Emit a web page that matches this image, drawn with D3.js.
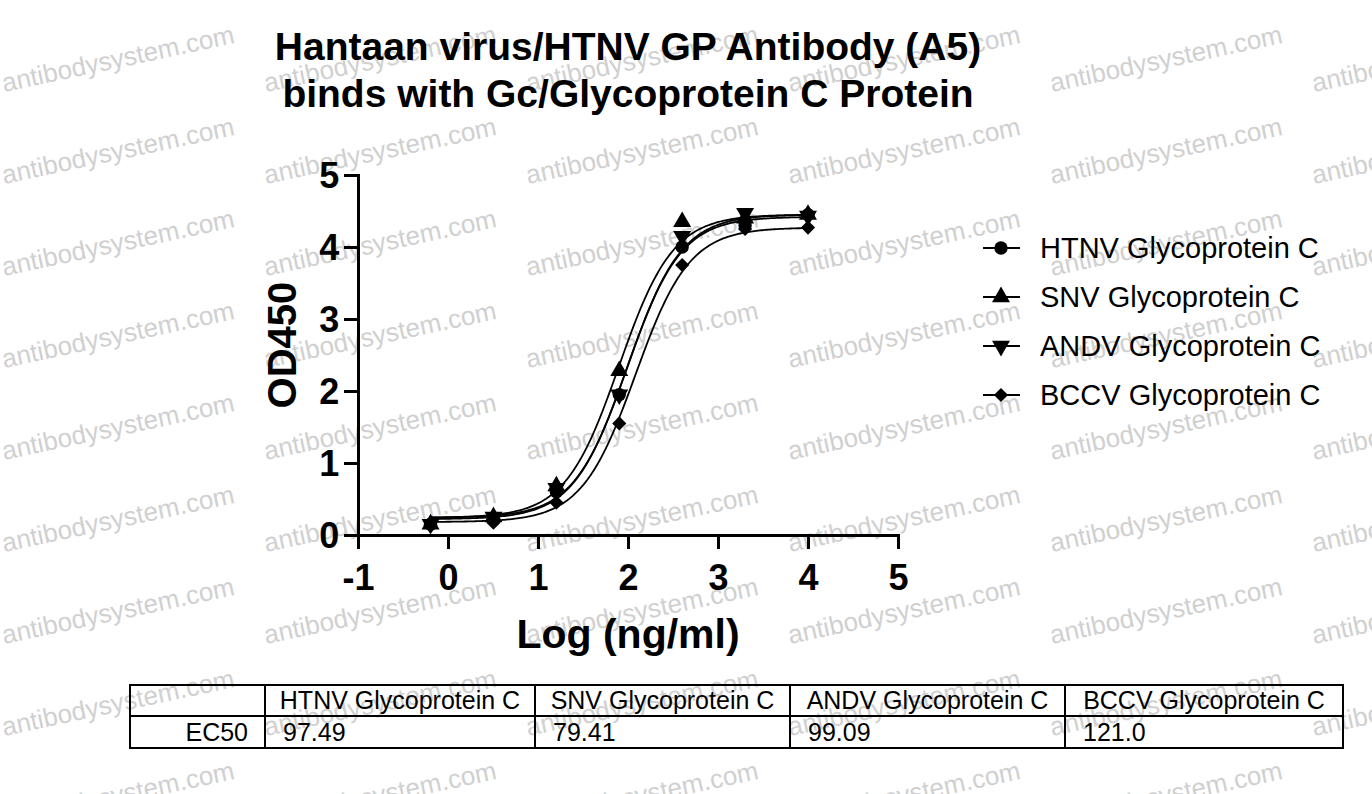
<!DOCTYPE html><html><head><meta charset="utf-8"><script src="https://cdn.jsdelivr.net/npm/d3@7"></script>
<style>body{margin:0;background:#fff}text{font-family:Arial,"Liberation Sans",sans-serif}</style></head><body>
<svg id="c" width="1372" height="794"></svg>
<script>
const xLog=[-0.194,0.505,1.204,1.903,2.602,3.301,4.0];
const seriesNames=["HTNV Glycoprotein C","SNV Glycoprotein C","ANDV Glycoprotein C","BCCV Glycoprotein C"];
const htnv=[0.15,0.22,0.6,1.95,4.0,4.3,4.45];
const snv=[0.15,0.25,0.68,2.28,4.35,4.4,4.45];
const andv=[0.15,0.25,0.65,1.95,4.15,4.47,4.43];
const bccv=[0.13,0.17,0.45,1.55,3.75,4.25,4.27];
const ec50=["97.49","79.41","99.09","121.0"];
// 4PL fit parameters [bottom, top, hill]
const fitBottom=[0.22,0.24,0.24,0.18];
const fitTop=[4.42,4.45,4.45,4.27];
const fitHill=[1.45,1.45,1.45,1.45];
const xTicks=[-1,0,1,2,3,4,5], yTicks=[0,1,2,3,4,5];
const symbols=[d3.symbolCircle,d3.symbolTriangle,d3.symbolTriangle,d3.symbolSquare];
const rot=[0,0,180,45];
const sizes=[140,140,140,100];
const vals=[htnv,snv,andv,bccv];
const svg=d3.select("#c");
const x=d3.scaleLinear().domain([-1,5]).range([358,898]);
const y=d3.scaleLinear().domain([0,5]).range([535,175]);
const wm=svg.append("g");
for(let r=0;r<9;r++)for(let c=0;c<6;c++){
  wm.append("text").attr("transform",`translate(${c*262+4},${r*92+92}) rotate(-12)`).attr("font-size",26).attr("fill","#d0d0d0").text("antibodysystem.com");
}
svg.append("text").attr("x",628).attr("y",60).attr("text-anchor","middle").attr("font-size",39).attr("font-weight","bold").text("Hantaan virus/HTNV GP Antibody (A5)");
svg.append("text").attr("x",628).attr("y",107).attr("text-anchor","middle").attr("font-size",39).attr("font-weight","bold").text("binds with Gc/Glycoprotein C Protein");
const xa=svg.append("g").attr("transform","translate(0,535)").call(d3.axisBottom(x).tickValues(xTicks).tickSize(14).tickFormat(d=>String(d)));
const ya=svg.append("g").attr("transform","translate(358,0)").call(d3.axisLeft(y).tickValues(yTicks).tickSize(14).tickFormat(d=>String(d)));
[xa,ya].forEach(a=>{a.select(".domain").attr("stroke-width",3);a.selectAll(".tick line").attr("stroke-width",3);a.selectAll("text").attr("font-size",36).attr("font-weight","bold").attr("font-family","Arial");});
xa.selectAll("text").attr("dy","1.05em");ya.selectAll("text").attr("dx","-0.05em").attr("dy","0.35em");
svg.append("text").attr("transform","translate(296,345) rotate(-90)").attr("text-anchor","middle").attr("font-size",40).attr("font-weight","bold").text("OD450");
svg.append("text").attr("x",628).attr("y",648).attr("text-anchor","middle").attr("font-size",41).attr("font-weight","bold").text("Log (ng/ml)");
const line=d3.line().x(d=>x(d[0])).y(d=>y(d[1]));
vals.forEach((v,i)=>{
  const lec=Math.log10(+ec50[i]);
  const pts=d3.range(-0.194,4.001,0.02).map(t=>[t,fitBottom[i]+(fitTop[i]-fitBottom[i])/(1+Math.pow(10,(lec-t)*fitHill[i]))]);
  svg.append("path").attr("d",line(pts)).attr("fill","none").attr("stroke","#000").attr("stroke-width",1.8);
});
vals.forEach((v,i)=>{
  svg.append("g").selectAll("path").data(v).join("path").attr("d",d3.symbol(symbols[i],sizes[i]))
   .attr("transform",(d,j)=>`translate(${x(xLog[j])},${y(d)}) rotate(${rot[i]})`).attr("fill","#000");
});
const lg=svg.append("g");
seriesNames.forEach((n,i)=>{
  const yy=248+i*49;
  lg.append("line").attr("x1",983).attr("x2",1020).attr("y1",yy).attr("y2",yy).attr("stroke","#000").attr("stroke-width",2);
  lg.append("path").attr("d",d3.symbol(symbols[i],sizes[i])).attr("transform",`translate(1001,${yy}) rotate(${rot[i]})`);
  lg.append("text").attr("x",1040).attr("y",yy+10).attr("font-size",29).text(n);
});
const cols=[130,265,535,790,1065,1343];
const tb=svg.append("g");
tb.append("rect").attr("x",130).attr("y",685).attr("width",1213).attr("height",63).attr("fill","none").attr("stroke","#000").attr("stroke-width",2);
tb.append("line").attr("x1",130).attr("x2",1343).attr("y1",716).attr("y2",716).attr("stroke","#000").attr("stroke-width",2);
cols.slice(1,5).forEach(c=>tb.append("line").attr("x1",c).attr("x2",c).attr("y1",685).attr("y2",748).attr("stroke","#000").attr("stroke-width",2));
seriesNames.forEach((n,i)=>{
  tb.append("text").attr("x",(cols[i+1]+cols[i+2])/2).attr("y",709).attr("text-anchor","middle").attr("font-size",25).text(n);
  tb.append("text").attr("x",cols[i+1]+18).attr("y",741).attr("font-size",25).text(ec50[i]);
});
tb.append("text").attr("x",248).attr("y",741).attr("text-anchor","end").attr("font-size",25).text("EC50");
</script></body></html>
